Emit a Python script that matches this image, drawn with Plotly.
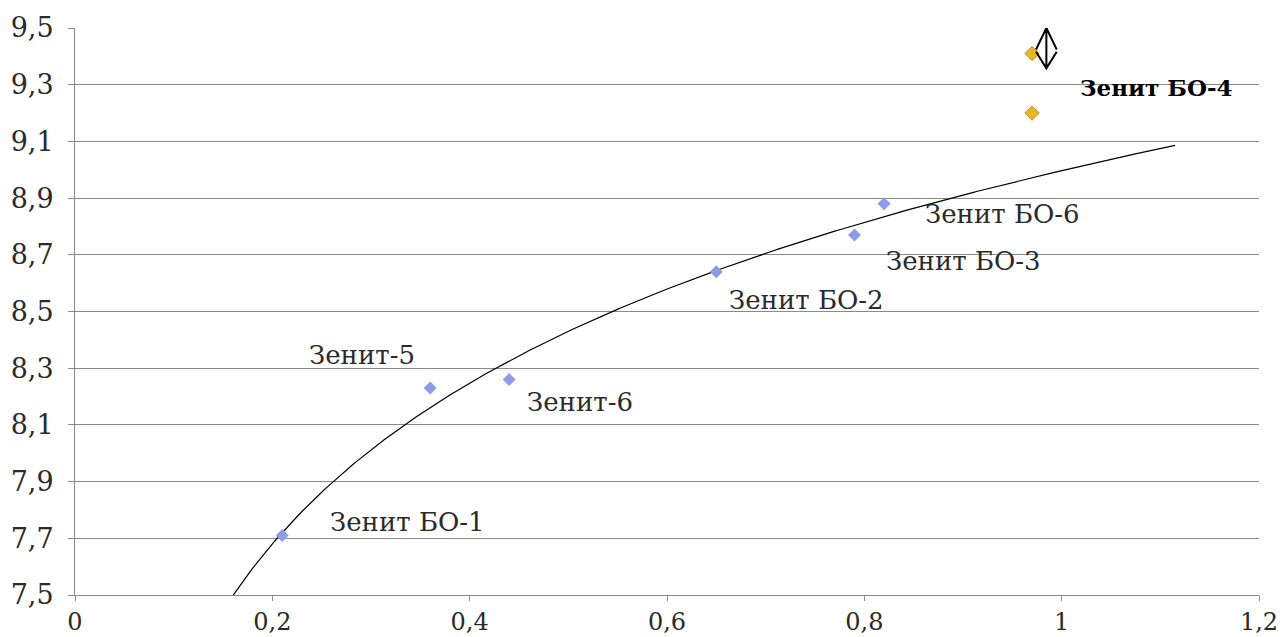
import numpy as np
import plotly.graph_objects as go

# ---- data ----
names = ["Зенит БО-1", "Зенит-5", "Зенит-6", "Зенит БО-2", "Зенит БО-3", "Зенит БО-6"]
x_vals = [0.21, 0.36, 0.44, 0.65, 0.79, 0.82]
y_vals = [7.71, 8.23, 8.26, 8.64, 8.77, 8.88]

bo4_name = "Зенит БО-4"
bo4_x = [0.97, 0.97]
bo4_y = [9.41, 9.20]

x_tickvals = [0, 0.2, 0.4, 0.6, 0.8, 1.0, 1.2]
x_ticktext = ["0", "0,2", "0,4", "0,6", "0,8", "1", "1,2"]
y_tickvals = [7.5, 7.7, 7.9, 8.1, 8.3, 8.5, 8.7, 8.9, 9.1, 9.3, 9.5]
y_ticktext = ["7,5", "7,7", "7,9", "8,1", "8,3", "8,5", "8,7", "8,9", "9,1", "9,3", "9,5"]

# logarithmic trendline fitted to the blue points (Excel-style, with forecast)
trend_x_start, trend_x_end = 0.16, 1.115

# label offsets in pixels (dx, dy) relative to each point
label_offsets = [(46, 13), (-123, 33), (16, -22), (11, -28), (30, -26), (39, -10)]
bo4_offset = (46, -34)

FONT = "DejaVu Serif"
GRID = "#8a8a8a"
TXT = "#2a2a2a"

b, a = np.polyfit(np.log(x_vals), y_vals, 1)
tx = np.linspace(trend_x_start, trend_x_end, 300)
ty = a + b * np.log(tx)

fig = go.Figure()
fig.add_trace(go.Scatter(x=tx, y=ty, mode="lines",
                         line=dict(color="black", width=1.2),
                         hoverinfo="skip", showlegend=False))
fig.add_trace(go.Scatter(x=x_vals, y=y_vals, mode="markers",
                         marker=dict(symbol="diamond", size=10, color="#8d9be8",
                                     line=dict(width=0)),
                         showlegend=False))
fig.add_trace(go.Scatter(x=bo4_x, y=bo4_y, mode="markers",
                         marker=dict(symbol="diamond", size=11, color="#e8b626",
                                     line=dict(width=1, color="#c0901a")),
                         showlegend=False))

for nm, xv, yv, (dx, dy) in zip(names, x_vals, y_vals, label_offsets):
    fig.add_annotation(x=xv, y=yv, text=nm, showarrow=False,
                       xanchor="left", yanchor="middle", xshift=dx, yshift=dy,
                       font=dict(family=FONT, size=26, color=TXT))

fig.add_annotation(x=bo4_x[0], y=bo4_y[0], text="<b>" + bo4_name + "</b>",
                   showarrow=False, xanchor="left", yanchor="middle",
                   xshift=bo4_offset[0], yshift=bo4_offset[1],
                   font=dict(family=FONT, size=23, color="black"))

# double-headed arrow marker (drawn shape)
ax_c, ax_hw = 0.9845, 0.0105
ay_top, ay_mid, ay_bot = 9.5, 9.42, 9.358
gap = 0.004
path = (f"M {ax_c-ax_hw},{ay_mid+gap} L {ax_c},{ay_top} L {ax_c+ax_hw},{ay_mid+gap} "
        f"M {ax_c-ax_hw},{ay_mid-gap} L {ax_c},{ay_bot} L {ax_c+ax_hw},{ay_mid-gap} "
        f"M {ax_c},{ay_top} L {ax_c},{ay_bot}")
fig.add_shape(type="path", path=path, xref="x", yref="y",
              line=dict(color="black", width=2))

fig.update_layout(
    width=1282, height=637,
    margin=dict(l=75, r=23, t=28, b=42),
    paper_bgcolor="white", plot_bgcolor="white",
    separators=", ",
    font=dict(family=FONT, size=26, color=TXT),
    showlegend=False,
)
fig.update_xaxes(range=[0, 1.2], tickmode="array", tickvals=x_tickvals, ticktext=x_ticktext,
                 showgrid=False, zeroline=False, showline=True, linecolor=GRID, linewidth=1,
                 ticks="outside", ticklen=5, tickcolor=GRID, tickfont=dict(size=24),
                 ticklabelstandoff=0, automargin=False)
fig.update_yaxes(range=[7.5, 9.5], tickmode="array", tickvals=y_tickvals, ticktext=y_ticktext,
                 showgrid=True, gridcolor=GRID, gridwidth=1, zeroline=False,
                 showline=True, linecolor=GRID, linewidth=1,
                 ticks="outside", ticklen=6, tickcolor=GRID, tickfont=dict(size=27),
                 ticklabelstandoff=9, automargin=False)

fig.write_html("out.html", config={"displayModeBar": False},
               post_script="document.body.style.margin='0';document.body.style.overflow='hidden';")
